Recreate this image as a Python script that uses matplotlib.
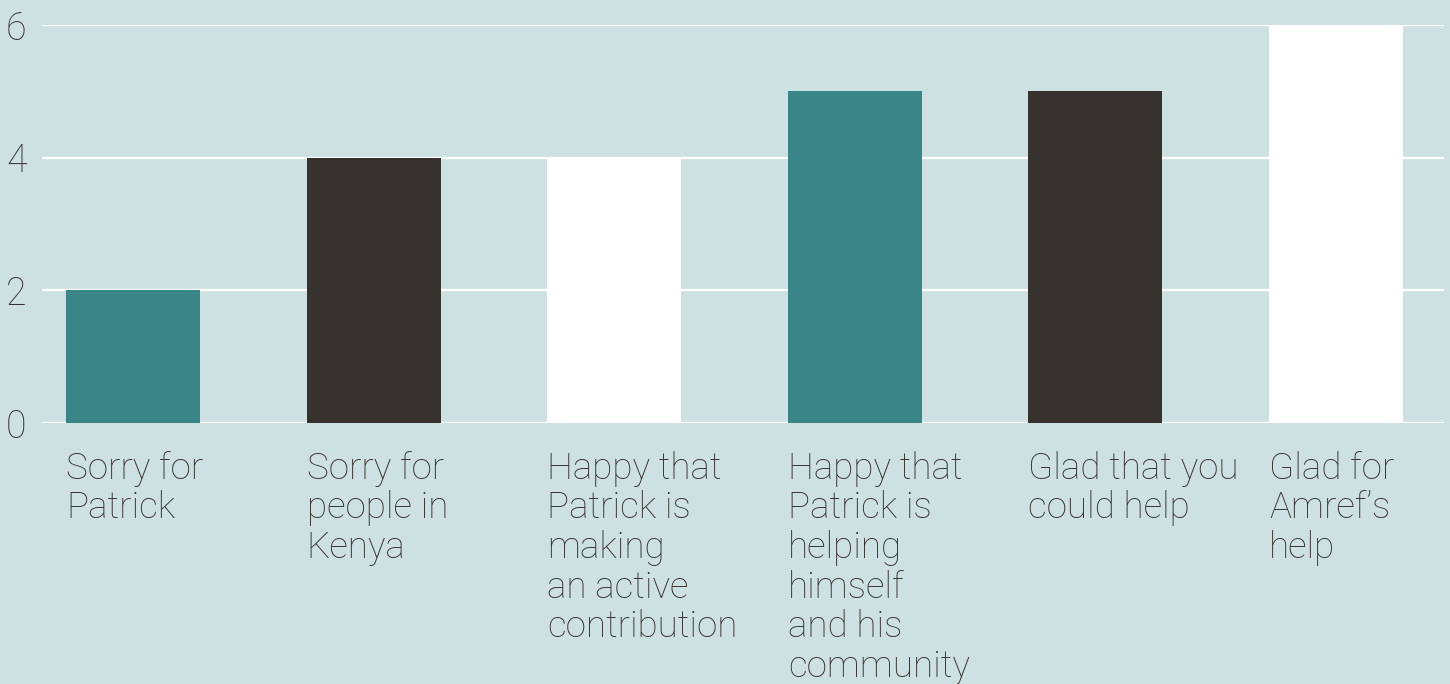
import matplotlib.pyplot as plt
import matplotlib.transforms as mtransforms

labels = [
    "Sorry for\nPatrick",
    "Sorry for\npeople in\nKenya",
    "Happy that\nPatrick is\nmaking\nan active\ncontribution",
    "Happy that\nPatrick is\nhelping\nhimself\nand his\ncommunity",
    "Glad that you\ncould help",
    "Glad for\nAmref\u2019s\nhelp",
]
values = [2, 4, 4, 5, 5, 6]
colors = ["#3a8588", "#38322f", "#ffffff", "#3a8588", "#38322f", "#ffffff"]

bg = "#cee1e2"
text_color = "#3a3532"

plt.rcParams["font.family"] = ["Roboto", "DejaVu Sans"]

fig = plt.figure(figsize=(14.5, 6.84), dpi=100, facecolor=bg)
ax = fig.add_axes([42 / 1450, 1 - 423 / 684, 1402 / 1450, 398 / 684])
ax.set_facecolor(bg)

width = 0.557
x = list(range(len(values)))
ax.bar(x, values, width=width, color=colors, zorder=3)

ax.set_xlim(-0.378, 5.449)
ax.set_ylim(0, 6)
ax.set_yticks([0, 2, 4, 6])
ax.grid(axis="y", color="white", linewidth=1.6, zorder=0)
ax.set_axisbelow(True)
for s in ax.spines.values():
    s.set_visible(False)
ax.tick_params(axis="y", length=0, pad=11, labelsize=27, labelcolor=text_color)
for t in ax.get_yticklabels():
    t.set_fontweight("light")
ax.set_xticks([])

trans = mtransforms.blended_transform_factory(ax.transData, ax.transAxes)
for i, lab in enumerate(labels):
    ax.text(i - width / 2, -0.07, lab, transform=trans, ha="left", va="top",
            fontsize=26.5, fontweight="light", color=text_color,
            linespacing=1.13)

fig.savefig("out.png", dpi=100, facecolor=bg)
